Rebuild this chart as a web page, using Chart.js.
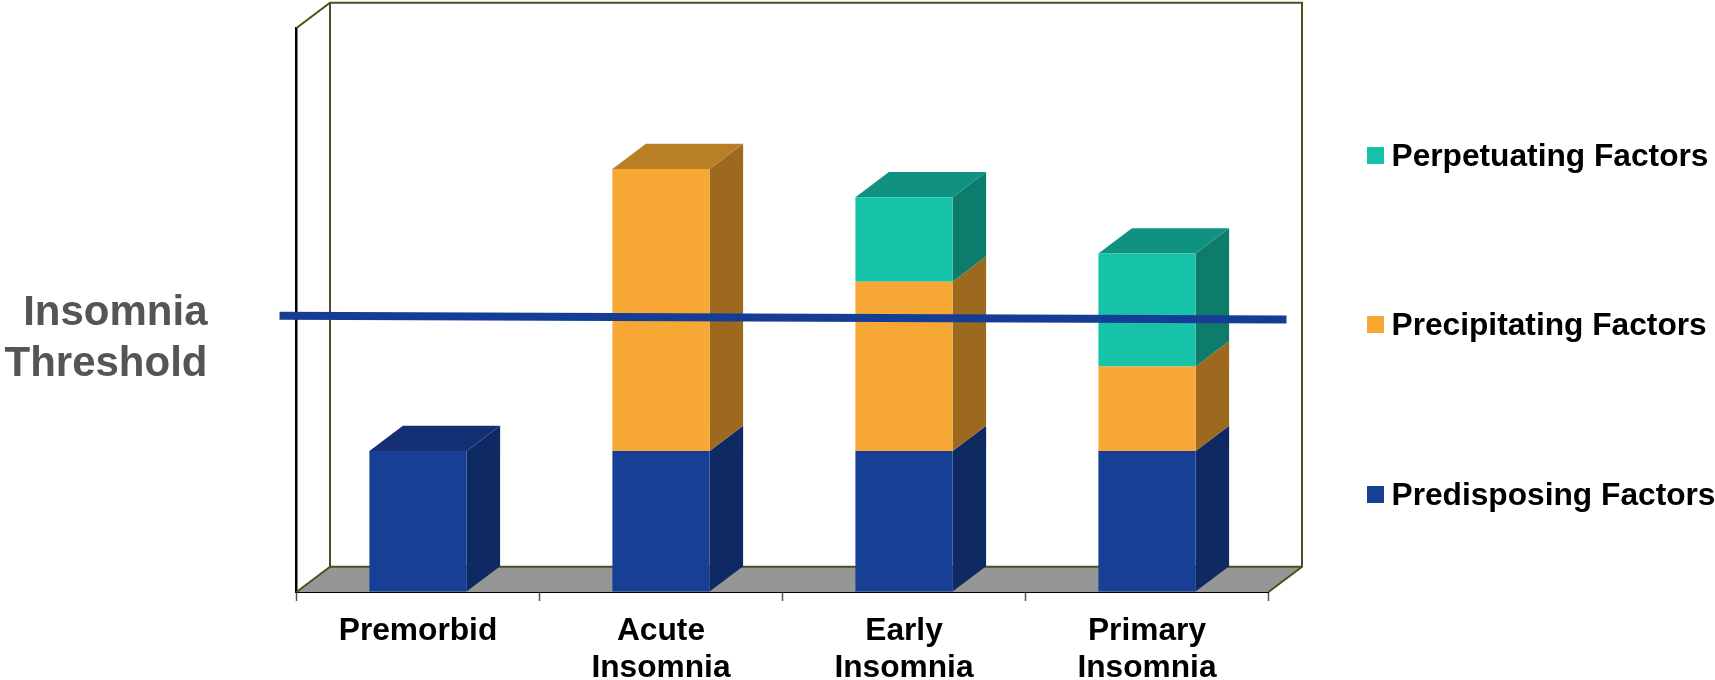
<!DOCTYPE html>
<html>
<head>
<meta charset="utf-8">
<style>
  html, body { margin: 0; padding: 0; background: #ffffff; }
  canvas { display: block; }
</style>
<script src="https://cdn.jsdelivr.net/npm/chart.js@4"></script>
</head>
<body>
<canvas id="chart" width="1715" height="680"></canvas>
<script>
// Stages of insomnia and the factors that build up in each one
const categories = ['Premorbid', ['Acute', 'Insomnia'], ['Early', 'Insomnia'], ['Primary', 'Insomnia']];
const predisposing = [5, 5, 5, 5];
const precipitating = [0, 10, 6, 3];
const perpetuating = [0, 0, 3, 4];

// Threshold line runs slightly past both ends of the plot, sloping down a touch
const thresholdX = [-0.0175, 1.0185];
const thresholdY = [9.8, 9.66];
const thresholdLabel = ['Insomnia', 'Threshold'];

const FONT = '"Liberation Sans", Arial, sans-serif';
const DEPTH_X = 33.5;
const DEPTH_Y = 25.3;

const SHADES = {
  predisposing: { front: '#173f95', side: '#0f2a63', top: '#142f73' },
  precipitating: { front: '#f7a733', side: '#9c691f', top: '#b97f27' },
  perpetuating: { front: '#17c3a8', side: '#0e7c6b', top: '#119280' }
};

function polygon(ctx, pts, fill) {
  ctx.beginPath();
  pts.forEach((p, i) => (i ? ctx.lineTo(p[0], p[1]) : ctx.moveTo(p[0], p[1])));
  ctx.closePath();
  ctx.fillStyle = fill;
  ctx.fill();
}

// Back wall, side wall and floor behind the bars, then the extruded bar faces
const box3d = {
  id: 'box3d',
  beforeDatasetsDraw(chart) {
    const { ctx, chartArea: a } = chart;
    const olive = '#4f4f1e';
    ctx.save();
    polygon(ctx, [[a.left, a.bottom], [a.left + DEPTH_X, a.bottom - DEPTH_Y],
                  [a.right + DEPTH_X, a.bottom - DEPTH_Y], [a.right, a.bottom]], '#969696');
    ctx.strokeStyle = olive;
    ctx.lineWidth = 2;
    ctx.beginPath();
    ctx.moveTo(a.left, a.top);
    ctx.lineTo(a.left + DEPTH_X, a.top - DEPTH_Y);
    ctx.lineTo(a.right + DEPTH_X, a.top - DEPTH_Y);
    ctx.lineTo(a.right + DEPTH_X, a.bottom - DEPTH_Y);
    ctx.lineTo(a.right, a.bottom);
    ctx.moveTo(a.left + DEPTH_X, a.top - DEPTH_Y);
    ctx.lineTo(a.left + DEPTH_X, a.bottom - DEPTH_Y);
    ctx.lineTo(a.left, a.bottom);
    ctx.moveTo(a.left + DEPTH_X, a.bottom - DEPTH_Y);
    ctx.lineTo(a.right + DEPTH_X, a.bottom - DEPTH_Y);
    ctx.stroke();

    const barSets = chart.data.datasets
      .map((d, i) => ({ d, meta: chart.getDatasetMeta(i) }))
      .filter(s => s.d.shades);
    categories.forEach((_, c) => {
      let topmost = null;
      barSets.forEach(({ d, meta }) => {
        if (!d.data[c]) return;
        const el = meta.data[c];
        const right = el.x + el.width / 2;
        polygon(ctx, [[right, el.base], [right + DEPTH_X, el.base - DEPTH_Y],
                      [right + DEPTH_X, el.y - DEPTH_Y], [right, el.y]], d.shades.side);
        topmost = { el, shades: d.shades };
      });
      if (topmost) {
        const { el, shades } = topmost;
        const l = el.x - el.width / 2, r = el.x + el.width / 2;
        polygon(ctx, [[l, el.y], [l + DEPTH_X, el.y - DEPTH_Y],
                      [r + DEPTH_X, el.y - DEPTH_Y], [r, el.y]], shades.top);
      }
    });
    ctx.restore();
  },
  // Legend column on the right and the threshold caption on the left
  afterDraw(chart) {
    const { ctx } = chart;
    ctx.save();
    ctx.textBaseline = 'alphabetic';
    ctx.textAlign = 'left';
    ctx.font = 'bold 31.7px ' + FONT;
    const rows = [[2, 165.5, 147], [1, 335, 316], [0, 504.5, 486]];
    rows.forEach(([i, baseline, swatchTop]) => {
      const d = chart.data.datasets[i];
      ctx.fillStyle = d.backgroundColor;
      ctx.fillRect(1367, swatchTop, 17, 17);
      ctx.fillStyle = '#000000';
      ctx.fillText(d.label, 1391.5, baseline);
    });
    ctx.textAlign = 'right';
    ctx.font = 'bold 42px ' + FONT;
    ctx.fillStyle = '#555555';
    ctx.fillText(thresholdLabel[0], 207.5, 324.5);
    ctx.fillText(thresholdLabel[1], 207.5, 375.5);
    ctx.restore();
  }
};

new Chart(document.getElementById('chart'), {
  type: 'bar',
  data: {
    labels: categories,
    datasets: [
      { label: 'Predisposing Factors', data: predisposing, backgroundColor: SHADES.predisposing.front,
        shades: SHADES.predisposing, order: 1, stack: 'factors', xAxisID: 'x', yAxisID: 'y' },
      { label: 'Precipitating Factors', data: precipitating, backgroundColor: SHADES.precipitating.front,
        shades: SHADES.precipitating, order: 1, stack: 'factors', xAxisID: 'x', yAxisID: 'y' },
      { label: 'Perpetuating Factors', data: perpetuating, backgroundColor: SHADES.perpetuating.front,
        shades: SHADES.perpetuating, order: 1, stack: 'factors', xAxisID: 'x', yAxisID: 'y' },
      { type: 'line', label: 'Insomnia Threshold', xAxisID: 'xLine', yAxisID: 'y', stack: 'threshold',
        data: thresholdX.map((x, i) => ({ x, y: thresholdY[i] })),
        borderColor: '#153d96', borderWidth: 8, pointRadius: 0, tension: 0, clip: false, order: 0 }
    ]
  },
  plugins: [box3d],
  options: {
    responsive: false,
    animation: false,
    datasets: { bar: { categoryPercentage: 1, barPercentage: 0.4, grouped: false } },
    layout: { padding: { left: 296.5, right: 446.5, top: 28, bottom: 0 } },
    plugins: { legend: { display: false }, tooltip: { enabled: false } },
    scales: {
      x: {
        type: 'category',
        stacked: true,
        afterFit(scale) { scale.height = 88; },
        border: { color: '#000000', width: 2 },
        grid: { drawOnChartArea: false, drawTicks: true, tickLength: 9, tickColor: '#555555', tickWidth: 1.5 },
        ticks: {
          color: '#000000', autoSkip: false, maxRotation: 0, minRotation: 0, padding: 12,
          font: { family: FONT, weight: 'bold', size: 31.7, lineHeight: 1.17 }
        }
      },
      xLine: { type: 'linear', display: false, min: 0, max: 1, offset: false },
      y: {
        stacked: true, min: 0, max: 20,
        afterFit(scale) { scale.width = 0; },
        border: { color: '#000000', width: 2.5 },
        grid: { drawOnChartArea: false, drawTicks: false },
        ticks: { display: false, count: 5 }
      }
    }
  }
});
</script>
</body>
</html>
